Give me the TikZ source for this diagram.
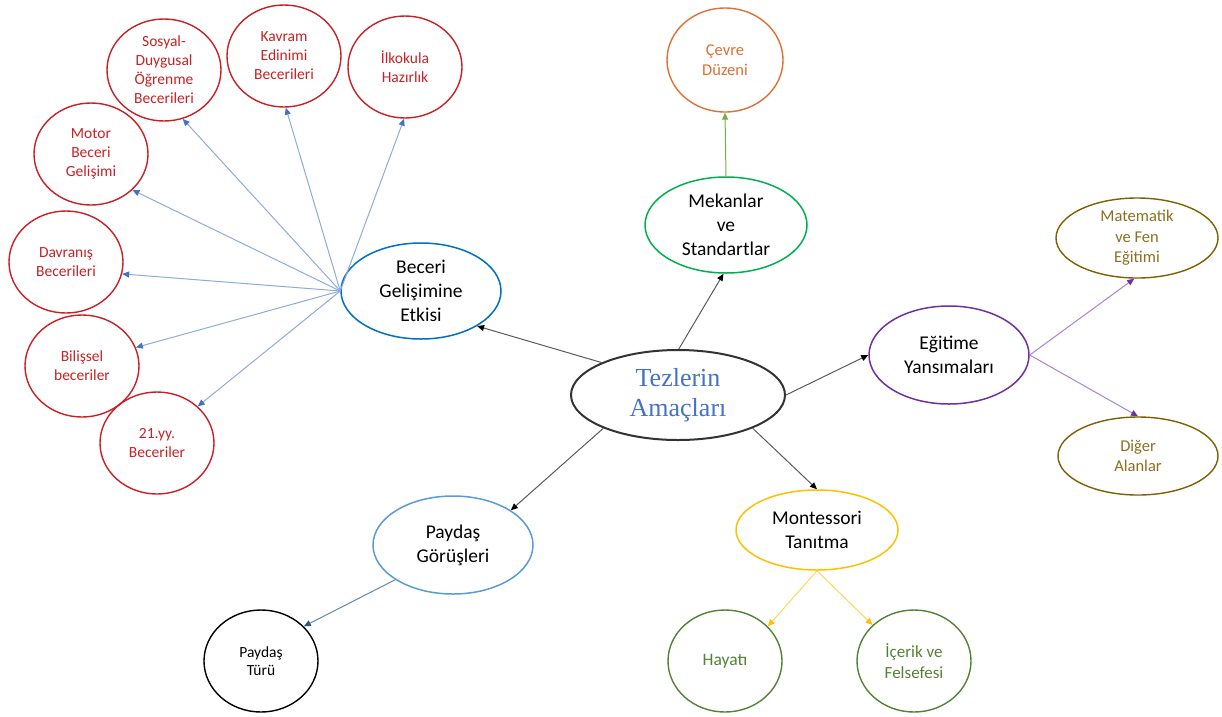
\documentclass[tikz,border=0pt]{standalone}
\usepackage{fontspec}
\setmainfont{Carlito}
\newfontfamily\tnr{Liberation Serif}
\usetikzlibrary{shapes.geometric,arrows.meta}
\definecolor{cred}{RGB}{200,32,36}
\definecolor{cblue}{RGB}{0,112,192}
\definecolor{lblue}{RGB}{143,170,220}
\definecolor{tblue}{RGB}{68,114,196}
\definecolor{corange}{RGB}{221,112,50}
\definecolor{cgreen}{RGB}{0,176,80}
\definecolor{lgreen}{RGB}{112,173,71}
\definecolor{cpurple}{RGB}{112,48,160}
\definecolor{lpurple}{RGB}{170,130,215}
\definecolor{colive}{RGB}{127,96,0}
\definecolor{tolive}{RGB}{140,110,30}
\definecolor{sblue}{RGB}{91,155,213}
\definecolor{pblue}{RGB}{100,135,175}
\definecolor{dblue}{RGB}{40,85,135}
\definecolor{cyellow}{RGB}{255,192,0}
\definecolor{lyellow}{RGB}{255,215,90}
\definecolor{dgreen}{RGB}{84,130,53}
\definecolor{cgray}{RGB}{90,90,90}
\begin{document}
\begin{tikzpicture}[x=1pt,y=-1pt,
  bub/.style={ellipse, draw, inner sep=0pt, align=center},
  redn/.style={bub, draw=cred, text=cred, line width=1.4pt, minimum width=114pt, minimum height=102pt, font=\fontsize{15.5}{19}\selectfont},
  bign/.style={bub, line width=1.5pt, font=\fontsize{19.5}{24}\selectfont},
  midn/.style={bub, line width=1.4pt, font=\fontsize{16.5}{20.5}\selectfont},
  conn/.style={line width=1pt},
  blk/.style={conn, draw=cgray, -{Triangle[length=7pt,width=6pt,color=black]}},
  bfan/.style={conn, draw=lblue, -{Triangle[length=7pt,width=6pt,color=tblue]}},
  ppl/.style={conn, draw=lpurple, -{Triangle[length=7pt,width=6pt,color=cpurple]}},
  yel/.style={conn, draw=lyellow, -{Triangle[length=7pt,width=6pt,color=cyellow]}},
  grn/.style={conn, draw=lgreen, -{Triangle[length=7pt,width=6pt,color=lgreen]}},
  pbl/.style={conn, draw=pblue, -{Triangle[length=7pt,width=6pt,color=dblue]}}
]
\useasboundingbox (0,0) rectangle (1222,716);

% centre
\node[bub, draw=black!80, line width=2pt, minimum width=214pt, minimum height=90pt, text=tblue, font=\tnr\fontsize{26}{30}\selectfont] (tez) at (678,395) {Tezlerin\\Amaçları};

% main branches
\node[bign, draw=cblue, minimum width=160pt, minimum height=96pt] (bec) at (421,291) {Beceri\\Gelişimine\\Etkisi};
\node[bign, draw=cgreen, minimum width=162pt, minimum height=96pt] (mek) at (726,225) {Mekanlar\\ve\\Standartlar};
\node[bign, draw=cpurple, minimum width=160pt, minimum height=98pt] (egi) at (949,355) {Eğitime\\Yansımaları};
\node[bign, draw=sblue, minimum width=160pt, minimum height=98pt] (pay) at (453,545) {Paydaş\\Görüşleri};
\node[bign, draw=cyellow, minimum width=162pt, minimum height=80pt] (mon) at (817,530) {Montessori\\Tanıtma};

% red skill nodes
\node[redn] (sos) at (164,70) {Sosyal-\\Duygusal\\Öğrenme\\Becerileri};
\node[redn] (kav) at (284,56) {Kavram\\Edinimi\\Becerileri};
\node[redn] (ilk) at (405,67) {İlkokula\\Hazırlık};
\node[redn] (mot) at (91,154) {Motor\\Beceri\\Gelişimi};
\node[redn] (dav) at (66,262) {Davranış\\Becerileri};
\node[redn] (bil) at (82,366) {Bilişsel\\beceriler};
\node[redn] (yy) at (157,443) {21.yy.\\Beceriler};

% other leaves
\node[midn, draw=corange, text=corange, minimum width=116pt, minimum height=104pt] (cev) at (725,60) {Çevre\\Düzeni};
\node[midn, draw=colive, text=tolive, minimum width=162pt, minimum height=80pt] (mat) at (1137,238) {Matematik\\ve Fen\\Eğitimi};
\node[midn, draw=colive, text=tolive, minimum width=160pt, minimum height=78pt] (dig) at (1138,456) {Diğer\\Alanlar};
\node[bub, draw=black, line width=1.4pt, minimum width=114pt, minimum height=102pt, font=\fontsize{15.5}{18.5}\selectfont] (tur) at (261,661) {Paydaş\\Türü};
\node[bub, draw=dgreen, text=dgreen, line width=1.4pt, minimum width=114pt, minimum height=102pt, font=\fontsize{17.5}{20.5}\selectfont] (hay) at (725,661) {Hayatı};
\node[bub, draw=dgreen, text=dgreen, line width=1.4pt, minimum width=114pt, minimum height=102pt, font=\fontsize{17}{20.5}\selectfont] (ice) at (914,661) {İçerik ve\\Felsefesi};

% connectors from centre
\draw[blk] (tez.157) -- (bec.-32);
\draw[blk] (tez.89) -- (mek.-93);
\draw[blk] (tez.east) -- (egi.west);
\draw[blk] (tez.204) -- (pay.31);
\draw[blk] (tez.-24) -- (mon.north);

% fan
\draw[bfan] (bec.west) -- (sos.-69);
\draw[bfan] (bec.west) -- (kav.-88);
\draw[bfan] (bec.west) -- (ilk.-91);
\draw[bfan] (bec.west) -- (mot.-41);
\draw[bfan] (bec.west) -- (dav.-12);
\draw[bfan] (bec.west) -- (bil.19);
\draw[bfan] (bec.west) -- (yy.42);

% others
\draw[grn] (mek.north) -- (cev.south);
\draw[ppl] (egi.east) -- (mat.-94);
\draw[ppl] (egi.east) -- (dig.north);
\draw[pbl] (pay.211) -- (tur.39);
\draw[yel] (mon.south) -- (hay.39);
\draw[yel] (mon.south) -- (ice.139);
\end{tikzpicture}
\end{document}
